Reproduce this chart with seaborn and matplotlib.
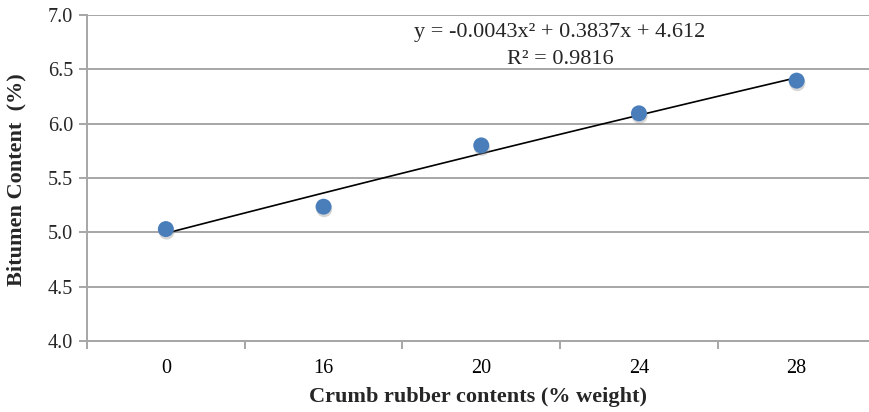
import numpy as np
import pandas as pd
import matplotlib
matplotlib.use("Agg")
import matplotlib.pyplot as plt
import matplotlib.patheffects as pe
import seaborn as sns

categories = ["0", "16", "20", "24", "28"]
bitumen = [5.03, 5.236, 5.80, 6.095, 6.396]
trend_coef = [-0.0043, 0.3837, 4.612]   # quadratic trendline, x = category number 1..5
yticks = [4.0, 4.5, 5.0, 5.5, 6.0, 6.5, 7.0]

sns.set_theme(style="white")
plt.rcParams["font.family"] = ["Liberation Serif", "DejaVu Serif"]

df = pd.DataFrame({"crumb": categories, "bitumen": bitumen})

fig = plt.figure(figsize=(8.7, 4.12), dpi=100)
ax = fig.add_axes([87/870, 1-341/412, 788.5/870, 326/412])

grid_c = "#a6a6a6"
for v in yticks:
    ax.axhline(v, color=grid_c, lw=1.4, zorder=0)

# trendline
xs = np.linspace(1, len(categories), 50)
ys = np.polyval(trend_coef, xs)
ax.plot(xs - 1, ys, color="black", lw=1.2, zorder=2)

sns.stripplot(data=df, x="crumb", y="bitumen", order=categories, jitter=False,
              color="#4a7ebb", size=11.5, linewidth=0, ax=ax, zorder=3)
for c in ax.collections:
    c.set_path_effects([pe.SimplePatchShadow(offset=(0.5, -1.8), shadow_rgbFace="#8c8c8c", alpha=0.35),
                        pe.Normal()])

ax.set_xlim(-0.5, len(categories) - 0.5)
ax.set_ylim(4.0, 7.0)
ax.set_yticks(yticks)
ax.set_yticklabels([f"{v:.1f}" for v in yticks], fontsize=14.5)
ax.set_xticks(range(len(categories)))
ax.set_xticklabels(categories, fontsize=14.5)
ax.set_xticks(np.arange(-0.5, len(categories), 1.0), minor=True)
ax.tick_params(axis="x", which="major", length=0, pad=13, colors="black")
ax.tick_params(axis="x", which="minor", length=6, width=1.4, color=grid_c, direction="out")
ax.tick_params(axis="y", which="major", length=6, width=1.4, color=grid_c, direction="out", pad=4)
ax.xaxis.set_ticks_position("bottom")
ax.yaxis.set_ticks_position("left")

for s in ["top", "right"]:
    ax.spines[s].set_visible(False)
for s in ["left", "bottom"]:
    ax.spines[s].set_color(grid_c)
    ax.spines[s].set_linewidth(1.4)

ax.set_xlabel("Crumb rubber contents (% weight)", fontsize=16, fontweight="bold")
ax.set_ylabel("Bitumen Content  (%)", fontsize=16, fontweight="bold")
ax.xaxis.label.set_va("center")
ax.yaxis.label.set_va("center")
ax.xaxis.set_label_coords((478.5-87)/788.5, (341-397)/326)
ax.yaxis.set_label_coords((16.5-87)/788.5, (341-180)/326)

ax.text(560/870, 1-33/412, "y = -0.0043x² + 0.3837x + 4.612", transform=fig.transFigure,
        ha="center", va="center", fontsize=16)
ax.text(560/870, 1-60/412, "R² = 0.9816", transform=fig.transFigure,
        ha="center", va="center", fontsize=16)

fig.savefig("out.png", dpi=100)
